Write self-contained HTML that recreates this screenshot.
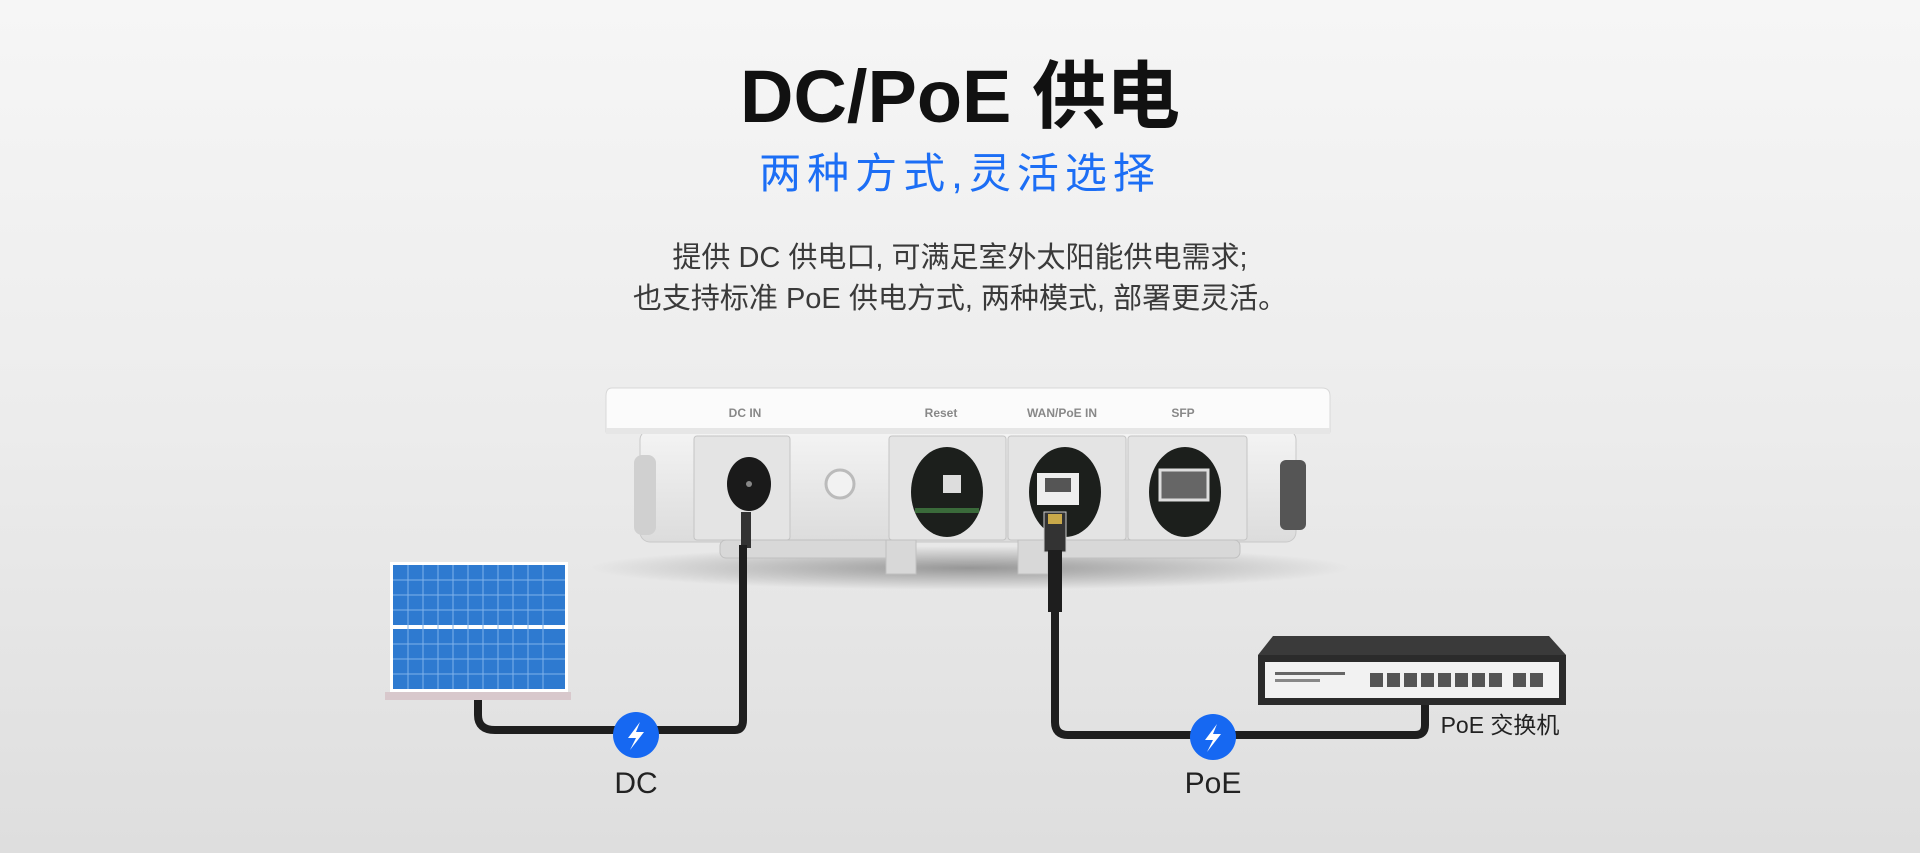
<!DOCTYPE html>
<html><head><meta charset="utf-8"><style>
html,body{margin:0;padding:0}
body{width:1920px;height:853px;overflow:hidden;position:relative;background:linear-gradient(180deg,#f6f6f6 0%,#ececec 50%,#dedede 100%);font-family:"Liberation Sans","Noto Sans CJK SC",sans-serif}
.t{position:absolute;left:0;width:1920px;text-align:center;white-space:nowrap}
</style></head><body>
<div class="t" style="top:52px;font-size:74px;font-weight:bold;color:#111;line-height:90px">DC/PoE 供电</div>
<div class="t" style="top:146px;font-size:42px;color:#1c6ef5;line-height:56px;letter-spacing:6px">两种方式,灵活选择</div>
<div class="t" style="top:238px;font-size:29px;color:#3a3a3a;line-height:41px">提供 DC 供电口, 可满足室外太阳能供电需求;<br>也支持标准 PoE 供电方式, 两种模式, 部署更灵活。</div>
<svg width="1920" height="853" style="position:absolute;left:0;top:0">
<defs>
<radialGradient id="sh" cx="0.5" cy="0.5" r="0.5"><stop offset="0" stop-color="#000" stop-opacity="0.35"/><stop offset="1" stop-color="#000" stop-opacity="0"/></radialGradient>
<linearGradient id="body" x1="0" y1="0" x2="0" y2="1"><stop offset="0" stop-color="#f4f4f4"/><stop offset="1" stop-color="#dcdcdc"/></linearGradient>
</defs>
<ellipse cx="970" cy="568" rx="380" ry="22" fill="url(#sh)"/>
<rect x="640" y="430" width="656" height="112" rx="10" fill="url(#body)" stroke="#c8c8c8"/>
<rect x="634" y="455" width="22" height="80" rx="8" fill="#d0d0d0"/>
<rect x="1280" y="460" width="26" height="70" rx="6" fill="#555"/>
<g fill="#e4e4e4" stroke="#c4c4c4">
<rect x="694" y="436" width="96" height="104" rx="3"/>
<rect x="889" y="436" width="117" height="104" rx="3"/>
<rect x="1008" y="436" width="118" height="104" rx="3"/>
<rect x="1128" y="436" width="119" height="104" rx="3"/>
</g>
<g fill="#d8d8d8" stroke="#c0c0c0">
<rect x="720" y="540" width="180" height="18" rx="6"/><rect x="1040" y="540" width="200" height="18" rx="6"/>
<rect x="886" y="540" width="30" height="34"/><rect x="1018" y="540" width="30" height="34"/>
</g>
<ellipse cx="749" cy="484" rx="22" ry="27" fill="#1a1a1a"/><circle cx="749" cy="484" r="3" fill="#888"/>
<circle cx="840" cy="484" r="14" fill="#f2f2f2" stroke="#bbb" stroke-width="3"/>
<ellipse cx="947" cy="492" rx="36" ry="45" fill="#1c1f1c"/><rect x="943" y="475" width="18" height="18" fill="#ddd"/><rect x="915" y="508" width="64" height="5" fill="#3a6a3a"/>
<ellipse cx="1065" cy="492" rx="36" ry="45" fill="#1c1f1c"/><rect x="1037" y="473" width="42" height="32" fill="#eee"/><rect x="1045" y="478" width="26" height="14" fill="#555"/>
<ellipse cx="1185" cy="492" rx="36" ry="45" fill="#1c1f1c"/><rect x="1160" y="470" width="48" height="30" fill="#666" stroke="#ddd" stroke-width="3"/>
<path d="M612 388 Q606 388 606 396 L606 432 L1330 432 L1330 396 Q1330 388 1322 388 Z" fill="#fbfbfb" stroke="#d8d8d8"/>
<rect x="606" y="428" width="724" height="6" fill="#e6e6e6"/>
<g font-family="Liberation Sans,sans-serif" font-size="12" font-weight="bold" fill="#888" text-anchor="middle">
<text x="745" y="417">DC IN</text><text x="941" y="417">Reset</text><text x="1062" y="417">WAN/PoE IN</text><text x="1183" y="417">SFP</text>
</g>
<rect x="741" y="512" width="10" height="36" fill="#333"/>
<path d="M478 700 L478 715 Q478 730 495 730 L735 730 Q743 730 743 720 L743 545" fill="none" stroke="#1e1e1e" stroke-width="8"/>
<rect x="1044" y="512" width="22" height="40" fill="#333" stroke="#ccc"/>
<rect x="1048" y="514" width="14" height="10" fill="#c9a94a"/>
<path d="M1055 550 L1055 612" stroke="#1e1e1e" stroke-width="14"/>
<path d="M1055 610 L1055 722 Q1055 735 1068 735 L1415 735 Q1425 735 1425 725 L1425 700" fill="none" stroke="#1e1e1e" stroke-width="8"/>
<rect x="385" y="692" width="186" height="8" fill="#d8c8cc"/>
<rect x="390" y="562" width="178" height="130" fill="#fff"/>
<rect x="393" y="565" width="172" height="60" fill="#2e7ad0"/>
<rect x="393" y="629" width="172" height="60" fill="#2e7ad0"/>
<g stroke="#7fb2ea" stroke-width="1">
<path d="M408 565V689M423 565V689M438 565V689M453 565V689M468 565V689M483 565V689M498 565V689M513 565V689M528 565V689M543 565V689"/>
<path d="M393 580H565M393 595H565M393 610H565M393 644H565M393 659H565M393 674H565"/>
</g>
<path d="M1273 636 L1549 636 L1566 655 L1258 655 Z" fill="#3a3a3a"/>
<rect x="1258" y="655" width="308" height="50" fill="#2b2b2b"/>
<rect x="1265" y="662" width="294" height="36" fill="#f2f2f2"/>
<g fill="#555"><rect x="1370" y="673" width="13" height="14"/><rect x="1387" y="673" width="13" height="14"/><rect x="1404" y="673" width="13" height="14"/><rect x="1421" y="673" width="13" height="14"/><rect x="1438" y="673" width="13" height="14"/><rect x="1455" y="673" width="13" height="14"/><rect x="1472" y="673" width="13" height="14"/><rect x="1489" y="673" width="13" height="14"/><rect x="1513" y="673" width="13" height="14"/><rect x="1530" y="673" width="13" height="14"/></g>
<rect x="1275" y="672" width="70" height="3" fill="#666"/><rect x="1275" y="679" width="45" height="3" fill="#888"/>
<g><circle cx="636" cy="735" r="23" fill="#1668f2"/><path d="M640 722 L628 738 L636 738 L630 750 L644 732 L636 732 Z" fill="#fff"/></g>
<g><circle cx="1213" cy="737" r="23" fill="#1668f2"/><path d="M1217 724 L1205 740 L1213 740 L1207 752 L1221 734 L1213 734 Z" fill="#fff"/></g>
<g font-family="Liberation Sans,'Noto Sans CJK SC',sans-serif" fill="#222" text-anchor="middle">
<text x="636" y="793" font-size="30">DC</text>
<text x="1213" y="793" font-size="30">PoE</text>
<text x="1500" y="733" font-size="23">PoE 交换机</text>
</g>
</svg>
</body></html>
